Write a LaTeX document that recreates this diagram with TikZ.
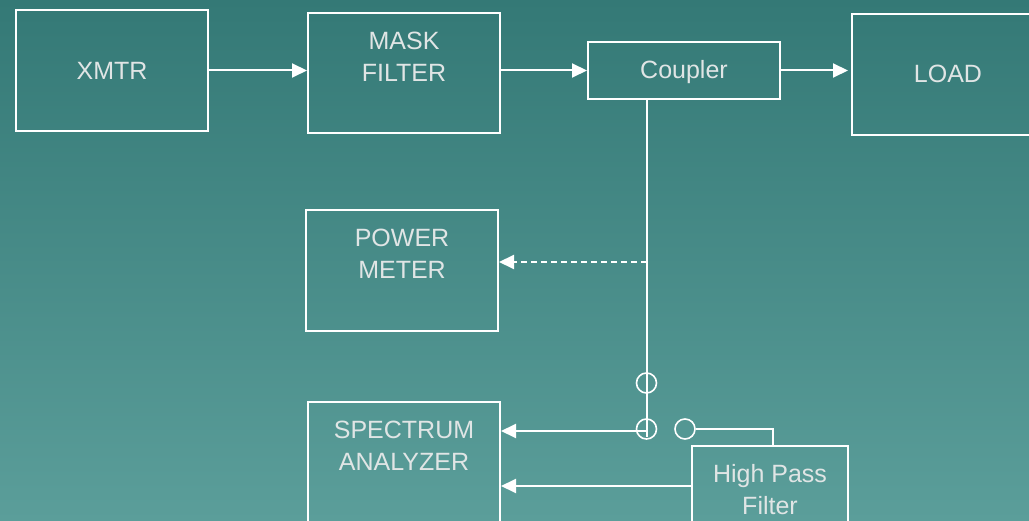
\documentclass[tikz,border=0pt]{standalone}
\usepackage{fontspec}
\setmainfont{Liberation Sans}
\usetikzlibrary{arrows.meta}

\definecolor{bgtop}{RGB}{52,121,118}
\definecolor{bgbottom}{RGB}{91,158,154}
\definecolor{txtgray}{RGB}{224,229,229}

\begin{document}
\begin{tikzpicture}[
    x=1pt, y=-1pt,
    every node/.style={font=\fontsize{25}{32}\selectfont, text=txtgray},
    box/.style={draw=white, line width=2pt, minimum width=192pt, minimum height=121pt, inner sep=0pt},
    boxtext/.style={anchor=center, yshift=-45pt, align=center, inner sep=0pt},
    sw/.style={circle, draw=white, line width=1.6pt, minimum size=20pt, inner sep=0pt},
    arr/.style={white, line width=2pt, -{Triangle[length=15pt, width=14pt]}},
    dasharr/.style={arr, dash pattern=on 6pt off 4pt}
]

% Background
\useasboundingbox (0,0) rectangle (1029,521);
\clip (0,0) rectangle (1029,521);
\shade[top color=bgtop, bottom color=bgbottom] (0,0) rectangle (1029,521);

% === Transmit chain ===
\node[box] (xmtr) at (112,70.5) {XMTR};
\node[box, minimum height=120pt, label={[boxtext]north:MASK\\FILTER}] (mask) at (404,73) {};
\node[box, minimum height=57pt, text depth=3pt] (coupler) at (684,70.5) {Coupler};
\node[box, text height=16pt] (load) at (948,74.5) {LOAD};

\draw[arr] (xmtr.east) -- (xmtr.east -| mask.west);
\draw[arr] (coupler.west -| mask.east) -- (coupler.west);
\draw[arr, shorten >=3pt] (coupler.east) -- (coupler.east -| load.west);

% === Measurement side ===
\node[box, label={[boxtext]north:POWER\\METER}] (power) at (402,270.5) {};
\node[box, label={[boxtext]north:SPECTRUM\\ANALYZER}] (spec) at (404,462.5) {};
\node[box, minimum width=156pt, label={[boxtext]north:High Pass\\Filter}] (hpf) at (770,506.5) {};

% Switch contacts
\node[sw] (swa) at (646.5,383) {};
\node[sw] (swb) at (646.5,429) {};
\node[sw] (swc) at (685,429) {};

\coordinate (pmtap) at (647,262);
\coordinate (hpfout) at (692,486);

% Coupled line down to the switch
\draw[white, line width=2pt] (coupler.south -| swb) -- ([yshift=-8pt]swb.center);
\draw[dasharr] (pmtap) -- (pmtap -| power.east);
\draw[arr] ([yshift=-2pt]swb.center) -- ([yshift=-2pt]swb.center -| spec.east);

% Through the high pass filter
\draw[white, line width=2pt] (swc.east) -| ([xshift=3pt]hpf.north);
\draw[arr] (hpfout) -- (hpfout -| spec.east);

\end{tikzpicture}
\end{document}
